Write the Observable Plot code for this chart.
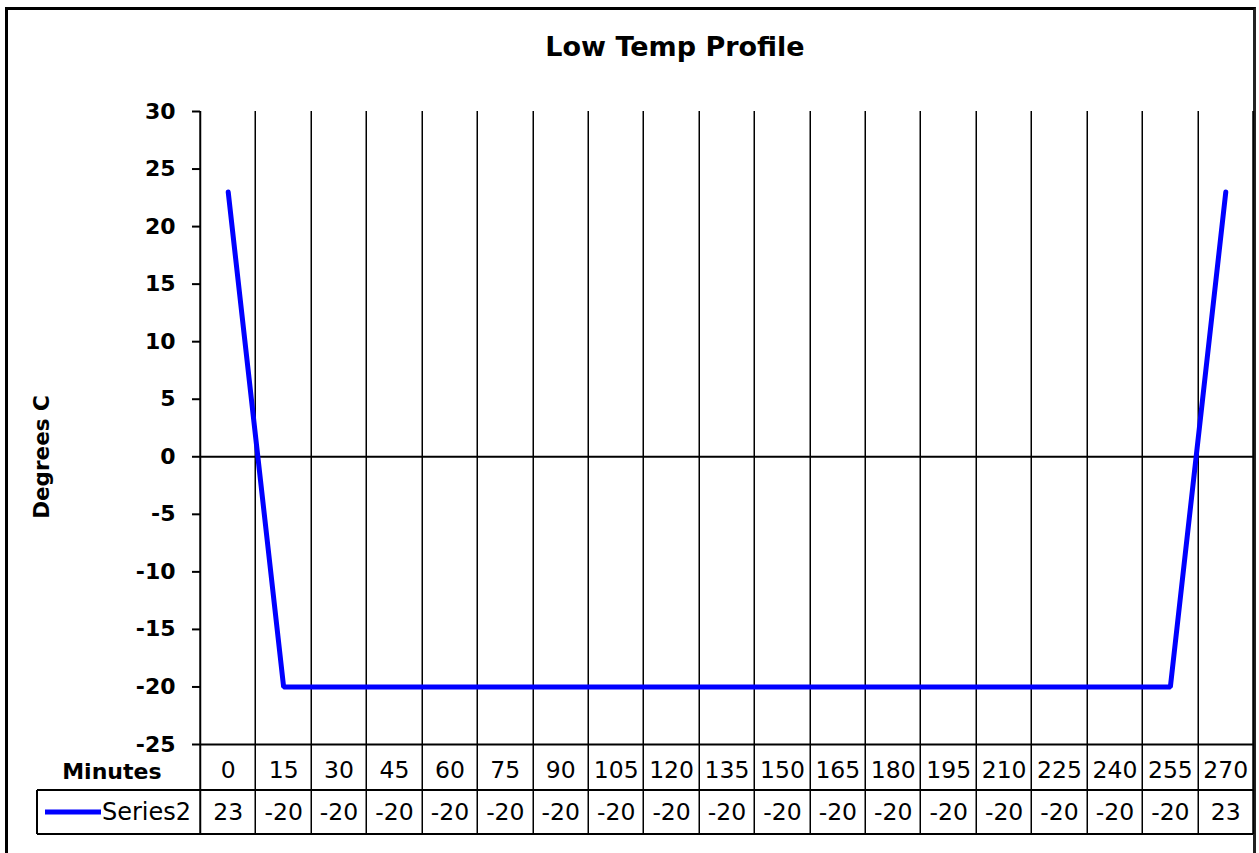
<!DOCTYPE html>
<html>
<head>
<meta charset="utf-8">
<script src="https://cdn.jsdelivr.net/npm/d3@7"></script>
<script src="https://cdn.jsdelivr.net/npm/@observablehq/plot@0.6"></script>
<style>
  html, body { margin: 0; padding: 0; background: #fff; overflow: hidden; }
  #wrap { position: relative; width: 1259px; height: 853px; }
  #border { position: absolute; left: 5px; top: 7px; width: 1245px; height: 900px;
    border-top: 3px solid #000; border-left: 3px solid #000; border-right: 3px solid #222; }
  #chart { position: absolute; left: 0; top: 0; }
</style>
</head>
<body>
<div id="wrap"><div id="border"></div><div id="chart"></div></div>
<script>
const title = "Low Temp Profile";
const yLabel = "Degrees C";
const xLabel = "Minutes";
const seriesName = "Series2";
const minutes = [0, 15, 30, 45, 60, 75, 90, 105, 120, 135, 150, 165, 180, 195, 210, 225, 240, 255, 270];
const temps = [23, -20, -20, -20, -20, -20, -20, -20, -20, -20, -20, -20, -20, -20, -20, -20, -20, -20, 23];
const yTicks = [30, 25, 20, 15, 10, 5, 0, -5, -10, -15, -20, -25];
const yDomain = [-25, 30];

const step = minutes[1] - minutes[0];
const xDomain = [minutes[0] - step / 2, minutes[minutes.length - 1] + step / 2];
const bounds = d3.range(minutes.length + 1).map(i => xDomain[0] + i * step);
const data = minutes.map((m, i) => ({m, t: temps[i]}));

const FONT = "DejaVu Sans";
const blue = "#0000ff";

// table lines, plot gridlines and legend key drawn via the plot's scales
function tableMark(index, scales, values, dims) {
  const x = scales.x, y = scales.y;
  const g = d3.create("svg:g").attr("fill", "none").attr("stroke", "#000");
  const top = y(yDomain[1]);
  const bottom = y(yDomain[0]);
  const row1 = bottom + 46, row2 = bottom + 90;
  const legendLeft = dims.marginLeft - 163;
  const right = x(xDomain[1]);
  for (const b of bounds) {
    const xb = Math.round(x(b)) + 0.25;
    g.append("line").attr("x1", xb).attr("x2", xb)
      .attr("y1", top).attr("y2", row2)
      .attr("stroke-width", b === xDomain[0] || b === xDomain[1] ? 2 : 1.5);
  }
  g.append("line").attr("x1", legendLeft).attr("x2", right).attr("y1", row1).attr("y2", row1).attr("stroke-width", 2);
  g.append("line").attr("x1", legendLeft).attr("x2", right).attr("y1", row2).attr("y2", row2).attr("stroke-width", 2);
  g.append("line").attr("x1", legendLeft).attr("x2", legendLeft).attr("y1", row1).attr("y2", row2).attr("stroke-width", 2);
  const ky = (row1 + row2) / 2;
  g.append("line").attr("x1", legendLeft + 8).attr("x2", legendLeft + 64).attr("y1", ky).attr("y2", ky)
    .attr("stroke", blue).attr("stroke-width", 5);
  g.append("text").attr("x", legendLeft + 65).attr("y", ky).attr("dy", "0.35em")
    .attr("fill", "#000").attr("stroke", "none").attr("text-anchor", "start")
    .attr("font-family", FONT).attr("font-size", 24).text(seriesName);
  return g.node();
}

const plot = Plot.plot({
  width: 1259,
  height: 853,
  marginLeft: 200,
  marginRight: 6,
  marginTop: 111,
  marginBottom: 109,
  style: {fontFamily: FONT, background: "transparent", overflow: "visible"},
  x: {type: "linear", domain: xDomain, axis: null},
  y: {domain: yDomain, axis: null, label: null},
  marks: [
    tableMark,
    Plot.ruleY([0], {stroke: "#000", strokeWidth: 2}),
    Plot.ruleY([yDomain[0]], {x1: xDomain[0], x2: xDomain[1], stroke: "#000", strokeWidth: 2}),
    Plot.axisY({anchor: "left", label: null, ticks: yTicks, tickSize: 8, tickPadding: 17, tickFormat: d => String(d),
      fontSize: 22, fontWeight: "bold", strokeWidth: 2}),
    Plot.line(data, {x: "m", y: "t", stroke: blue, strokeWidth: 5, strokeLinejoin: "miter"}),
    Plot.text([title], {frameAnchor: "top", lineAnchor: "middle", textAnchor: "middle", dx: -52, dy: -64, fontSize: 27, fontWeight: "bold"}),
    Plot.text([yLabel], {frameAnchor: "left", lineAnchor: "middle", textAnchor: "middle", dx: -158, dy: 29, rotate: -90, fontSize: 21.5, fontWeight: "bold"}),
    Plot.text([xLabel], {frameAnchor: "bottom-left", lineAnchor: "middle", textAnchor: "end", dx: -39, dy: 27, fontSize: 22, fontWeight: "bold"}),
    Plot.text(minutes, {x: d => d, text: d => String(d), frameAnchor: "bottom", lineAnchor: "middle", dy: 26, fontSize: 23.5}),
    Plot.text(data, {x: "m", text: d => String(d.t), frameAnchor: "bottom", lineAnchor: "middle", dy: 68, fontSize: 23.5})
  ]
});
document.getElementById("chart").appendChild(plot);
</script>
</body>
</html>
